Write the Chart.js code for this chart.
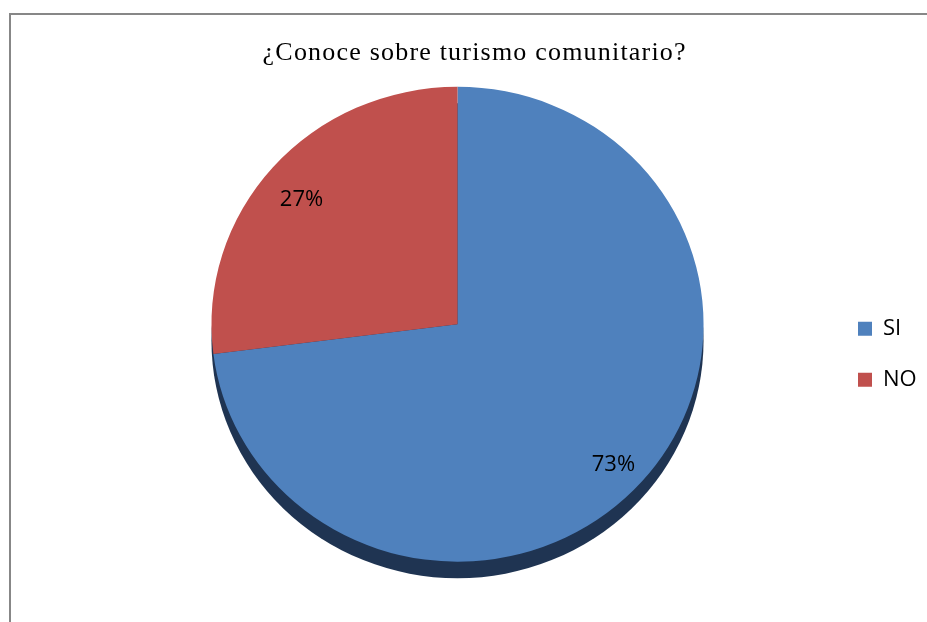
<!DOCTYPE html>
<html><head><meta charset="utf-8">
<script src="https://cdn.jsdelivr.net/npm/chart.js@4.4.1/dist/chart.umd.min.js"></script>
<style>
html,body{margin:0;padding:0;background:#fff;}
#wrap{position:relative;width:927px;height:622px;overflow:hidden;background:#fff;}
#frame{position:absolute;left:9px;top:13px;width:930px;height:620px;border-top:2px solid #878787;border-left:2px solid #878787;}
canvas{position:absolute;left:0;top:0;}
</style></head><body>
<div id="wrap"><div id="frame"></div><canvas id="c" width="927" height="622"></canvas></div>
<script>
const chartTitle = '¿Conoce sobre turismo comunitario?';
const categories = ['SI', 'NO'];
const percentages = [73, 27];
const sliceColors = ['#4F81BD', '#C0504D'];

const V_SCALE = 0.965;   // slight tilt of the pie
const DEPTH = 16.5;      // visible thickness of the pie edge
const TITLE_SPACING = '1.2px';
const LABEL_DY = 8;

const pie3d = {
  id: 'pie3d',
  afterLayout(chart) {
    const lg = chart.legend;
    if (lg) { lg.width = 98; lg.right = lg.left + 98; }
  },
  beforeDraw(chart) {
    const tb = chart.titleBlock;
    if (tb && !tb._spaced) {
      const orig = tb.draw.bind(tb);
      tb.draw = function (area) {
        const c = this.ctx;
        const prev = c.letterSpacing;
        c.letterSpacing = TITLE_SPACING;
        orig(area);
        c.letterSpacing = prev || '0px';
      };
      tb._spaced = true;
    }
  },
  beforeDatasetsDraw(chart) {
    const arc = chart.getDatasetMeta(0).data[0];
    const p = arc.getProps(['x', 'y', 'outerRadius'], true);
    const ctx = chart.ctx;
    ctx.save();
    ctx.translate(p.x, p.y);
    ctx.scale(1, V_SCALE);
    ctx.translate(-p.x, -p.y);
    ctx.beginPath();
    ctx.arc(p.x, p.y + DEPTH / V_SCALE, p.outerRadius, 0, Math.PI * 2);
    ctx.fillStyle = '#1f3452';
    ctx.fill();
  },
  afterDatasetsDraw(chart) {
    const ctx = chart.ctx;
    ctx.restore();
    const meta = chart.getDatasetMeta(0);
    ctx.save();
    ctx.font = '22px "Open Sans"';
    ctx.fillStyle = '#000';
    ctx.textAlign = 'center';
    ctx.textBaseline = 'middle';
    meta.data.forEach((arc, i) => {
      const p = arc.getProps(['x', 'y', 'startAngle', 'endAngle', 'outerRadius'], true);
      const mid = (p.startAngle + p.endAngle) / 2;
      const rr = p.outerRadius * 0.845;
      ctx.fillText(percentages[i] + '%', p.x + Math.cos(mid) * rr, p.y + Math.sin(mid) * rr * V_SCALE + LABEL_DY);
    });
    ctx.restore();
  }
};

new Chart(document.getElementById('c'), {
  type: 'pie',
  data: {
    labels: categories,
    datasets: [{
      data: percentages,
      backgroundColor: sliceColors,
      borderColor: sliceColors,
      borderWidth: 0,
      hoverOffset: 0
    }]
  },
  options: {
    responsive: false,
    animation: false,
    devicePixelRatio: 1,
    layout: { padding: { left: 86, right: 63.6, top: 0, bottom: 51.7 } },
    plugins: {
      title: {
        display: true,
        text: chartTitle,
        color: '#000',
        font: { family: '"Liberation Serif", "Times New Roman", serif', size: 26, weight: 'normal' },
        padding: { top: 38, bottom: 9 }
      },
      legend: {
        position: 'right',
        align: 'center',
        maxWidth: 34.4,
        title: { display: true, text: ' ', padding: { top: 126, bottom: 0 }, font: { size: 10 } },
        labels: {
          boxWidth: 14,
          boxHeight: 14,
          padding: 29,
          color: '#000',
          font: { family: '"Open Sans"', size: 22 }
        }
      },
      tooltip: { enabled: false }
    }
  },
  plugins: [pie3d]
});
</script>
</body></html>
